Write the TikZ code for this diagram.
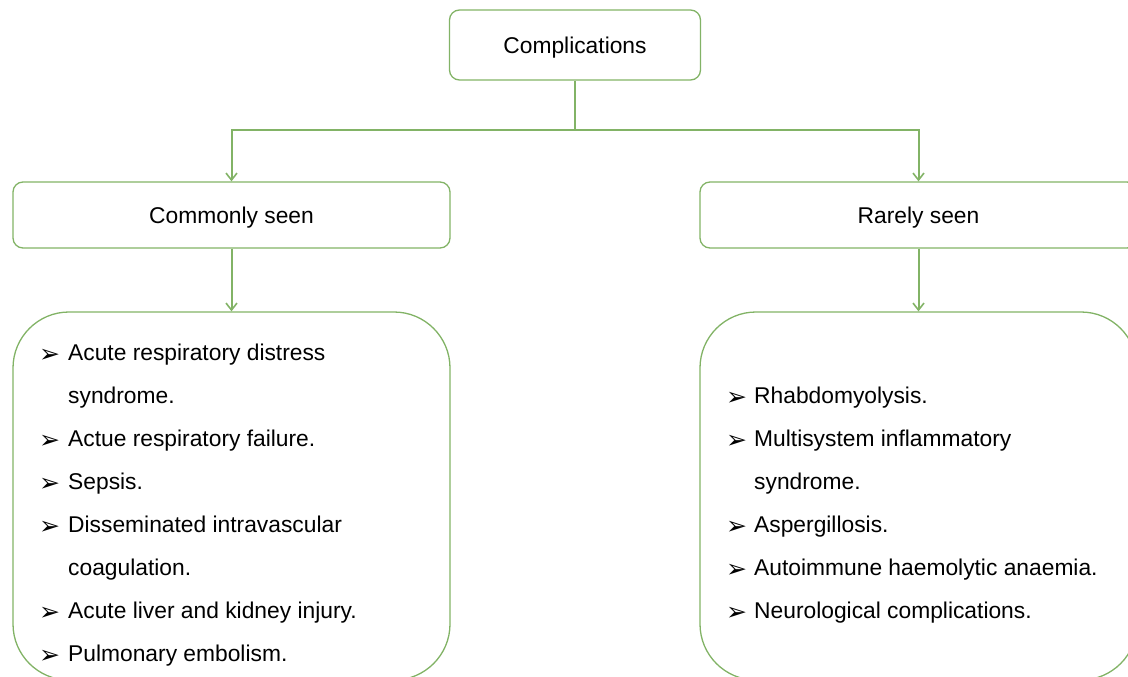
\documentclass[tikz,border=0pt]{standalone}
\usepackage{fontspec}
\setmainfont{Liberation Sans}
\newfontfamily\arrowfont{DejaVu Sans}
\usetikzlibrary{arrows.meta}
\definecolor{leaf}{HTML}{82B366}

\begin{document}
\begin{tikzpicture}[x=1pt,y=-1pt]
    \tikzstyle{every node}+=[inner sep=0pt, font=\fontsize{22.8}{27}\selectfont]
    \tikzstyle{headbox}=[draw=leaf, line width=1.3pt, rounded corners=10pt, text height=16.6pt, text depth=0pt]
    \tikzstyle{listbox}=[draw=leaf, line width=1.3pt, rounded corners=56pt, minimum width=437pt, minimum height=368pt]
    \tikzstyle{link}=[draw=leaf, line width=2pt, -{Straight Barb[length=7pt,width=11pt,line width=1.6pt]}]
    \tikzstyle{tick}=[anchor=base west, font=\arrowfont\fontsize{25}{28}\selectfont]
    \clip (0,0) rectangle (1128,677);
    \node [headbox, minimum width=251pt, minimum height=70pt] (comp) at (575,45) {Complications};
    \node [headbox, minimum width=437pt, minimum height=66pt] (common) at (231.5,215) {Commonly seen};
    \node [headbox, minimum width=437pt, minimum height=66pt] (rare) at (918.5,215) {Rarely seen};
    \node [listbox] (commonlist) at (231.5,496) {};
    \node [listbox] (rarelist) at (918.5,496) {};
    \coordinate (split) at (575,130);
    \draw [leaf, line width=2pt] (comp.south) -- (split);
    \draw [link] (split) -| (common.north);
    \draw [link] (split) -| (rare.north);
    \draw [link] (common.south) -- (commonlist.north);
    \draw [link] (rare.south) -- (rarelist.north);
    \foreach \n/\b/\txt in {1/1/Acute respiratory distress, 2/0/syndrome., 3/1/Actue respiratory failure.,
        4/1/Sepsis., 5/1/Disseminated intravascular, 6/0/coagulation., 7/1/Acute liver and kidney injury.,
        8/1/Pulmonary embolism.} {
        \node [anchor=base west] (cl\n) at (68,{317+43*\n}) {\txt};
        \ifnum\b=1 \node [tick] (cb\n) at (39,{319+43*\n}) {➢}; \fi
    }
    \foreach \n/\b/\txt in {2/1/Rhabdomyolysis., 3/1/Multisystem inflammatory, 4/0/syndrome.,
        5/1/Aspergillosis., 6/1/Autoimmune haemolytic anaemia., 7/1/Neurological complications.} {
        \node [anchor=base west] (rl\n) at (754,{317+43*\n}) {\txt};
        \ifnum\b=1 \node [tick] (rb\n) at (726,{319+43*\n}) {➢}; \fi
    }
\end{tikzpicture}
\end{document}
